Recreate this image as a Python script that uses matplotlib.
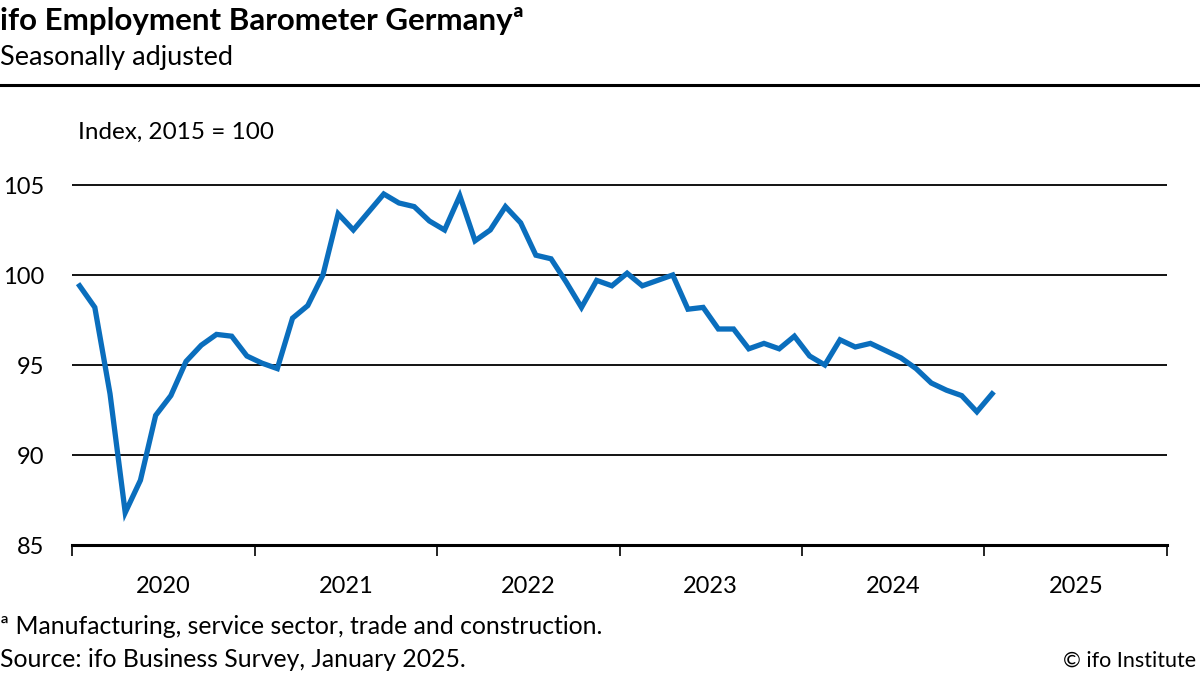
import matplotlib
matplotlib.use("Agg")
import matplotlib.pyplot as plt

plt.rcParams['font.family'] = ['Lato', 'DejaVu Sans']

# Monthly values Jan 2020 - Jan 2025
values = [99.4, 98.2, 93.4, 86.8, 88.6, 92.2, 93.3, 95.2, 96.1, 96.7, 96.6, 95.5,
          95.1, 94.8, 97.6, 98.3, 100.0, 103.4, 102.5, 103.5, 104.5, 104.0, 103.8, 103.0,
          102.5, 104.4, 101.9, 102.5, 103.8, 102.9, 101.1, 100.9, 99.6, 98.2, 99.7, 99.4,
          100.1, 99.4, 99.7, 100.0, 98.1, 98.2, 97.0, 97.0, 95.9, 96.2, 95.9, 96.6,
          95.5, 95.0, 96.4, 96.0, 96.2, 95.8, 95.4, 94.8, 94.0, 93.6, 93.3, 92.4,
          93.4]
years = ['2020', '2021', '2022', '2023', '2024', '2025']
yticks = [85, 90, 95, 100, 105]

fig = plt.figure(figsize=(12, 6.75), dpi=100)
ax = fig.add_axes([72/1200, 1-545/675, (1167-72)/1200, (545-167)/675])

x = [i + 0.5 for i in range(len(values))]
ax.plot(x, values, color='#0A6EBD', lw=3.8, solid_joinstyle='miter', zorder=3)

ax.set_xlim(0, 12*len(years))
ax.set_ylim(85, 106)

for v in yticks[1:]:
    ax.axhline(v, color='black', lw=1.3, zorder=1)

for s in ['top', 'right', 'left']:
    ax.spines[s].set_visible(False)
ax.spines['bottom'].set_linewidth(2.2)
ax.spines['bottom'].set_color('black')

ax.set_yticks(yticks)
ax.set_yticklabels([str(v) for v in yticks], fontsize=17)
ax.tick_params(axis='y', length=0, pad=20)

ax.set_xticks([12*i for i in range(len(years)+1)])
ax.set_xticklabels([])
ax.tick_params(axis='x', which='major', length=8, width=1.2, color='black', direction='out')
ax.set_xticks([12*i + 6 for i in range(len(years))], minor=True)
ax.set_xticklabels(years, minor=True, fontsize=17)
ax.tick_params(axis='x', which='minor', length=0, pad=22)

fig.text(0.0, 1-30/675, 'ifo Employment Barometer Germanyª', fontsize=22.5, fontweight='bold',
         ha='left', va='baseline')
fig.text(0.0, 1-65/675, 'Seasonally adjusted', fontsize=19.5, ha='left', va='baseline')
fig.add_artist(plt.Line2D([0, 1], [1-85/675, 1-85/675], color='black', lw=2.2))
fig.text(78/1200, 1-139/675, 'Index, 2015 = 100', fontsize=17.5, ha='left', va='baseline')

fig.text(0.0, 1-634/675, 'ª Manufacturing, service sector, trade and construction.', fontsize=17.8,
         ha='left', va='baseline')
fig.text(0.0, 1-667/675, 'Source: ifo Business Survey, January 2025.', fontsize=17.8,
         ha='left', va='baseline')
fig.text(1196/1200, 1-667/675, '© ifo Institute', fontsize=15.5, ha='right', va='baseline')

fig.savefig('out.png', dpi=100)
